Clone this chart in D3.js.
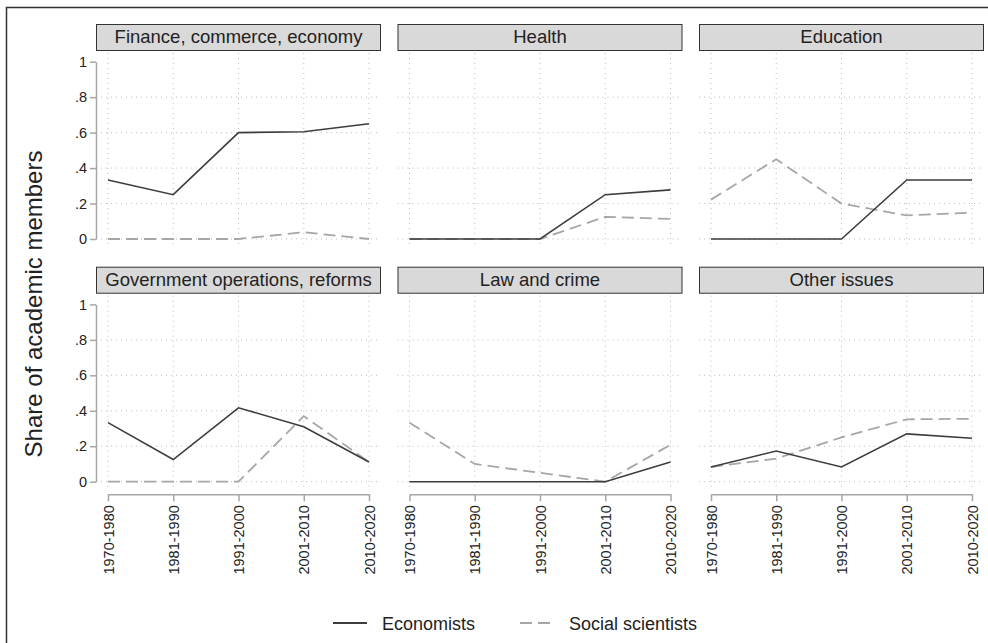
<!DOCTYPE html>
<html>
<head>
<meta charset="utf-8">
<title>Share of academic members</title>
<style>
  body { margin: 0; background: #fff; }
  svg text { font-family: "Liberation Sans", Arial, Helvetica, sans-serif; fill: #222; }
</style>
</head>
<body>
<script src="https://cdn.jsdelivr.net/npm/d3@7"></script>
<script>
// DATA
var periods = ["1970-1980", "1981-1990", "1991-2000", "2001-2010", "2010-2020"];
var topics = ["Finance, commerce, economy", "Health", "Education",
              "Government operations, reforms", "Law and crime", "Other issues"];
var yTicks = [0, 0.2, 0.4, 0.6, 0.8, 1];
var yTickLabels = ["0", ".2", ".4", ".6", ".8", "1"];

var economists = [
  [0.333, 0.25, 0.6, 0.605, 0.65],
  [0, 0, 0, 0.25, 0.277],
  [0, 0, 0, 0.333, 0.333],
  [0.333, 0.125, 0.417, 0.31, 0.111],
  [0, 0, 0, 0, 0.111],
  [0.083, 0.173, 0.083, 0.27, 0.245]
];
var socialScientists = [
  [0, 0, 0, 0.038, 0],
  [0, 0, 0, 0.125, 0.113],
  [0.222, 0.45, 0.2, 0.133, 0.148],
  [0, 0, 0, 0.37, 0.111],
  [0.333, 0.1, 0.05, 0, 0.208],
  [0.083, 0.13, 0.25, 0.352, 0.355]
];

var W = 988, H = 643;
var svg = d3.select("body").append("svg")
  .attr("width", W).attr("height", H);

// outer frame (only top and left edges are visible)
svg.append("path")
  .attr("d", "M6.5,643V7.5H988")
  .attr("fill", "none").attr("stroke", "#333").attr("stroke-width", 1.5);

var panelW = 285, panelStep = 301.5, left0 = 96;
var rowTop = [24, 266.7];      // strip top per row
var stripH = 26;

var darkCol = "#3d3d3d", lightCol = "#a6a6a6";

topics.forEach(function(topic, i) {
  var col = i % 3, row = Math.floor(i / 3);
  var x0 = left0 + col * panelStep;
  var st = rowTop[row];
  var g = svg.append("g");

  var x = d3.scalePoint().domain(periods).range([x0 + 12, x0 + panelW - 12]);
  var y = d3.scaleLinear().domain([0, 1]).range([st + 215, st + 37.7]);
  var plotTop = st + stripH + 3, plotBottom = st + 223;

  // grid
  g.selectAll(".hg").data(yTicks.filter(function(t) { return t < 1; }))
    .enter().append("line")
    .attr("x1", x0).attr("x2", x0 + panelW)
    .attr("y1", function(d) { return y(d); }).attr("y2", function(d) { return y(d); })
    .attr("stroke", "#bdbdbd").attr("stroke-width", 1).attr("stroke-dasharray", "1,4");
  g.selectAll(".vg").data(periods).enter().append("line")
    .attr("x1", function(d) { return x(d); }).attr("x2", function(d) { return x(d); })
    .attr("y1", plotTop).attr("y2", plotBottom)
    .attr("stroke", "#bdbdbd").attr("stroke-width", 1).attr("stroke-dasharray", "1,4");

  // strip
  g.append("rect")
    .attr("x", x0 + 0.5).attr("y", st + 0.5)
    .attr("width", panelW - 1).attr("height", stripH)
    .attr("fill", "#d9d9d9").attr("stroke", "#333").attr("stroke-width", 1);
  g.append("text")
    .attr("x", x0 + panelW / 2).attr("y", st + 19)
    .attr("text-anchor", "middle").style("font-size", "18.5px")
    .text(topic);

  // y axis on first column
  if (col === 0) {
    var yAxis = d3.axisLeft(y).tickValues(yTicks)
      .tickFormat(function(d, k) { return yTickLabels[k]; })
      .tickSize(6).tickSizeOuter(0).tickPadding(3);
    var ya = g.append("g").attr("transform", "translate(" + x0 + ",0)").call(yAxis);
    ya.select(".domain").attr("stroke", "#a6a6a6").attr("stroke-width", 1.5);
    ya.selectAll(".tick line").attr("stroke", "#a6a6a6").attr("stroke-width", 1.5);
    ya.selectAll(".tick text").style("font-size", "14.5px")
      .style("font-family", "'Liberation Sans', Arial, sans-serif").attr("fill", "#222");
  }

  // x axis on bottom row
  if (row === 1) {
    var xAxis = d3.axisBottom(x).tickSize(7).tickSizeOuter(0).tickPadding(5);
    var xa = g.append("g").attr("transform", "translate(0," + (st + 227.5) + ")").call(xAxis);
    xa.select(".domain").attr("stroke", "#a6a6a6").attr("stroke-width", 1.5);
    xa.selectAll(".tick line").attr("stroke", "#a6a6a6").attr("stroke-width", 1.5);
    xa.selectAll(".tick text")
      .style("font-size", "14.5px")
      .style("font-family", "'Liberation Sans', Arial, sans-serif")
      .attr("fill", "#222")
      .attr("text-anchor", "end")
      .attr("dy", "0.36em")
      .attr("transform", "rotate(-90) translate(-11,0)")
      .attr("x", 0).attr("y", 0);
  }

  var line = d3.line()
    .x(function(d, k) { return x(periods[k]); })
    .y(function(d) { return y(d); });

  g.append("path").datum(socialScientists[i])
    .attr("d", line).attr("fill", "none")
    .attr("stroke", lightCol).attr("stroke-width", 1.8)
    .attr("stroke-dasharray", "12,6");
  g.append("path").datum(economists[i])
    .attr("d", line).attr("fill", "none")
    .attr("stroke", darkCol).attr("stroke-width", 1.6);
});

// y title
svg.append("text")
  .attr("transform", "translate(42,304) rotate(-90)")
  .attr("text-anchor", "middle").style("font-size", "24px")
  .text("Share of academic members");

// legend
var legend = [
  { name: "Economists", color: darkCol, dash: null, x: 333 },
  { name: "Social scientists", color: lightCol, dash: "12,6", x: 520 }
];
legend.forEach(function(d) {
  svg.append("line")
    .attr("x1", d.x).attr("x2", d.x + 34)
    .attr("y1", 623).attr("y2", 623)
    .attr("stroke", d.color).attr("stroke-width", 1.8)
    .attr("stroke-dasharray", d.dash);
  svg.append("text")
    .attr("x", d.x + 49).attr("y", 629.5)
    .style("font-size", "18px")
    .text(d.name);
});
</script>
</body>
</html>
